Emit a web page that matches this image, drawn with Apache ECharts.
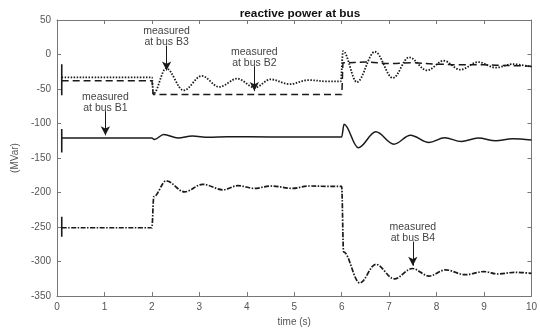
<!DOCTYPE html>
<html>
<head>
<meta charset="utf-8">
<script src="https://cdn.jsdelivr.net/npm/echarts@6/dist/echarts.min.js"></script>
<style>
  html, body { margin: 0; padding: 0; background: #fff; }
  #chart { width: 540px; height: 332px; }
</style>
</head>
<body>
<div id="chart"></div>
<script>
// time (s), value (MVar) pairs
var busB3 = [[0.1,-33],[2.0,-33],[2.03,-57],[2.3,-20],[2.67,-52],[3.05,-31],[3.42,-47],[3.8,-35],
  [4.17,-48],[4.5,-36],[4.9,-43],[5.3,-37],[5.7,-39],[5.98,-39],[6.03,5],[6.32,-40],[6.7,4],
  [7.08,-34],[7.42,-4],[7.8,-23],[8.15,-9],[8.5,-22],[8.88,-11],[9.24,-19],[9.6,-14],[10,-18]];
var busB2 = [[0.1,-38],[2.0,-38],[2.03,-58],[6.0,-58],[6.03,-12],[6.5,-11],[7.0,-13],[7.5,-12],
  [8.0,-14],[8.5,-15],[9.0,-15],[9.5,-16],[10,-17]];
var busB1 = [[0.1,-121],[2.0,-121],[2.05,-123],[2.25,-116],[2.55,-121],[2.85,-118],[3.2,-120],
  [3.6,-119],[4.5,-119.5],[5.5,-119.5],[6.0,-119.5],[6.05,-101],[6.35,-135],[6.72,-112],[7.1,-130],
  [7.45,-117],[7.84,-127.5],[8.17,-120.5],[8.52,-126],[8.88,-121],[9.25,-125],[9.6,-122],[10,-124]];
var busB4 = [[0.1,-251],[2.0,-251],[2.04,-206],[2.3,-183],[2.69,-199],[3.07,-188],[3.5,-196],
  [3.81,-190],[4.16,-194],[4.5,-190.5],[4.97,-194],[5.3,-190.5],[5.7,-191],[6.0,-191],[6.04,-286],
  [6.38,-331],[6.72,-304],[7.11,-325],[7.49,-310],[7.84,-321],[8.19,-312],[8.6,-319],[9.0,-314.5],
  [9.3,-318],[9.65,-315.5],[10,-317]];
// short vertical bars at the start of the traces
var startBars = [[0.1,-14],[0.1,-59],'-',[0.1,-108],[0.1,-142],'-',[0.1,-235],[0.1,-264]];
// annotation arrows: label, x, arrow top, arrow tip
var notes = [
  ['measured\nat bus B3', 2.31, 13, -23],
  ['measured\nat bus B2', 4.16, -17, -53],
  ['measured\nat bus B1', 1.02, -82, -117],
  ['measured\nat bus B4', 7.5, -271, -306]
];
var xTicks = [0, 10, 1];
var yTicks = [-350, 50, 50];

var chart = echarts.init(document.getElementById('chart'), null, { renderer: 'canvas' });
var ink = '#1a1a1a';
var font = 'Liberation Sans, Arial, sans-serif';

function axisBase(show) {
  return {
    axisLine: { show: true, onZero: false, lineStyle: { color: '#777', width: 1 } },
    axisTick: { show: true, inside: true, length: 4, lineStyle: { color: '#777' } },
    axisLabel: { show: show, color: '#555', fontSize: 10, fontFamily: font, margin: 6 },
    splitLine: { show: false }
  };
}

var xMain = Object.assign(axisBase(true), { type: 'value', min: xTicks[0], max: xTicks[1], interval: xTicks[2],
  name: 'time (s)', nameLocation: 'middle', nameGap: 17,
  nameTextStyle: { color: '#555', fontSize: 10, fontFamily: font } });
var xTop = Object.assign(axisBase(false), { type: 'value', position: 'top', min: xTicks[0], max: xTicks[1], interval: xTicks[2] });
var yMain = Object.assign(axisBase(true), { type: 'value', min: yTicks[0], max: yTicks[1], interval: yTicks[2],
  name: '(MVar)', nameLocation: 'middle', nameGap: 31,
  nameTextStyle: { color: '#555', fontSize: 10, fontFamily: font } });
var yRight = Object.assign(axisBase(false), { type: 'value', position: 'right', min: yTicks[0], max: yTicks[1], interval: yTicks[2] });

function traceSeries(name, data, type, width) {
  return {
    name: name, type: 'line', data: data, showSymbol: false, smooth: 0.35, smoothMonotone: 'x',
    lineStyle: { color: ink, width: width, type: type }, z: 3
  };
}

var arrowData = notes.map(function (n) {
  return [{ coord: [n[1], n[2]], label: { formatter: n[0] } }, { coord: [n[1], n[3]] }];
});

var option = {
  animation: false,
  title: {
    text: 'reactive power at bus', left: 295, top: 3, textAlign: 'center',
    textStyle: { fontSize: 11.8, fontWeight: 'bold', color: '#111', fontFamily: font }
  },
  grid: { left: 57, right: 7, top: 20, bottom: 30.5 },
  xAxis: [xMain, xTop],
  yAxis: [yMain, yRight],
  series: [
    traceSeries('B3', busB3, [1.5, 1.5], 1.8),
    traceSeries('B2', busB2, [7, 4], 1.5),
    traceSeries('B1', busB1, 'solid', 1.5),
    traceSeries('B4', busB4, [5, 1.5, 1.5, 1.5], 1.7),
    {
      name: 'start', type: 'line', data: startBars, showSymbol: false,
      lineStyle: { color: ink, width: 1.6 }, z: 4,
      markLine: {
        silent: true, symbol: ['none', 'arrow'], symbolSize: [7, 9],
        lineStyle: { color: ink, width: 1, type: 'solid' },
        label: { show: true, position: 'start', distance: -2, color: '#444', fontSize: 10.5,
          fontFamily: font, lineHeight: 11, align: 'center' },
        data: arrowData
      }
    }
  ]
};
chart.setOption(option);
</script>
</body>
</html>
